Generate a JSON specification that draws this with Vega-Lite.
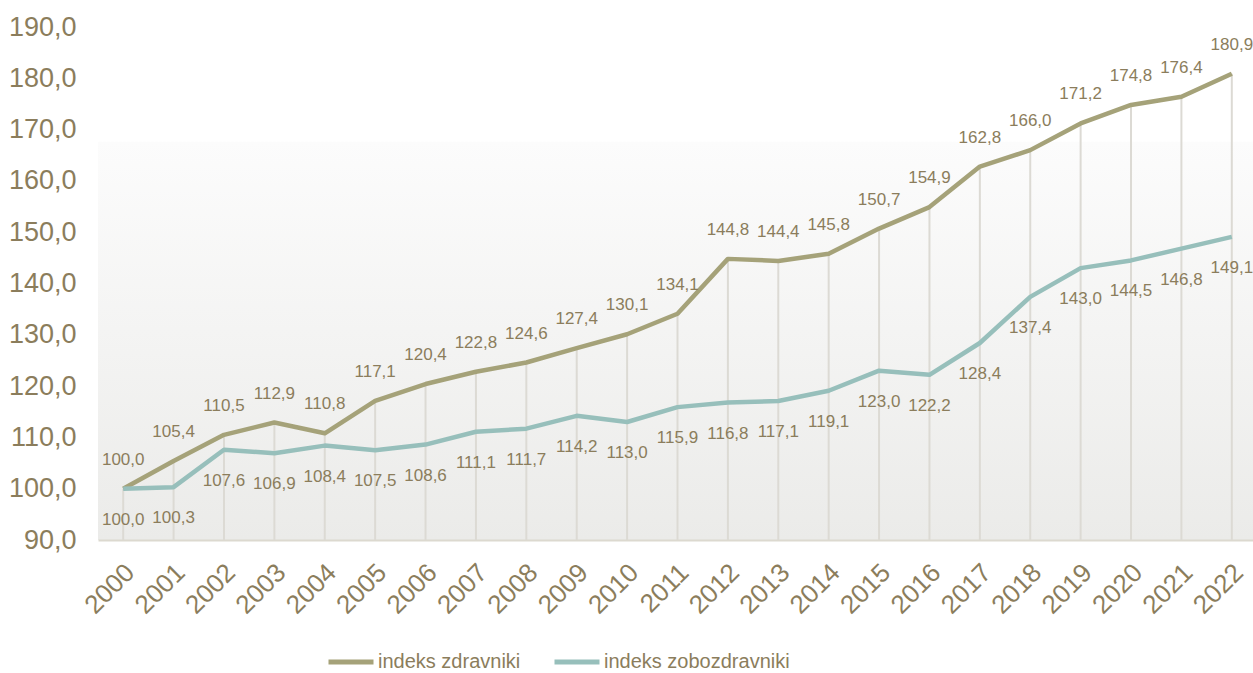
{
  "$schema": "https://vega.github.io/schema/vega-lite/v6.json",
  "width": 1159,
  "height": 513,
  "autosize": {"type": "none"},
  "padding": {"left": 98, "top": 27, "right": 0, "bottom": 133},
  "background": "white",
  "config": {
    "locale": {"number": {"decimal": ",", "thousands": ".", "grouping": [3], "currency": ["", " €"]}},
    "font": "Liberation Sans",
    "view": {
      "stroke": null,
      "fill": {
        "gradient": "linear", "x1": 0, "y1": 0, "x2": 0, "y2": 1,
        "stops": [
          {"offset": 0, "color": "#ffffff"},
          {"offset": 0.223, "color": "#ffffff"},
          {"offset": 0.224, "color": "#fcfcfc"},
          {"offset": 1, "color": "#ebebe9"}
        ]
      }
    }
  },
  "data": {
    "values": [
      {"leto": "2000", "indeks zdravniki": 100.0, "indeks zobozdravniki": 100.0},
      {"leto": "2001", "indeks zdravniki": 105.4, "indeks zobozdravniki": 100.3},
      {"leto": "2002", "indeks zdravniki": 110.5, "indeks zobozdravniki": 107.6},
      {"leto": "2003", "indeks zdravniki": 112.9, "indeks zobozdravniki": 106.9},
      {"leto": "2004", "indeks zdravniki": 110.8, "indeks zobozdravniki": 108.4},
      {"leto": "2005", "indeks zdravniki": 117.1, "indeks zobozdravniki": 107.5},
      {"leto": "2006", "indeks zdravniki": 120.4, "indeks zobozdravniki": 108.6},
      {"leto": "2007", "indeks zdravniki": 122.8, "indeks zobozdravniki": 111.1},
      {"leto": "2008", "indeks zdravniki": 124.6, "indeks zobozdravniki": 111.7},
      {"leto": "2009", "indeks zdravniki": 127.4, "indeks zobozdravniki": 114.2},
      {"leto": "2010", "indeks zdravniki": 130.1, "indeks zobozdravniki": 113.0},
      {"leto": "2011", "indeks zdravniki": 134.1, "indeks zobozdravniki": 115.9},
      {"leto": "2012", "indeks zdravniki": 144.8, "indeks zobozdravniki": 116.8},
      {"leto": "2013", "indeks zdravniki": 144.4, "indeks zobozdravniki": 117.1},
      {"leto": "2014", "indeks zdravniki": 145.8, "indeks zobozdravniki": 119.1},
      {"leto": "2015", "indeks zdravniki": 150.7, "indeks zobozdravniki": 123.0},
      {"leto": "2016", "indeks zdravniki": 154.9, "indeks zobozdravniki": 122.2},
      {"leto": "2017", "indeks zdravniki": 162.8, "indeks zobozdravniki": 128.4},
      {"leto": "2018", "indeks zdravniki": 166.0, "indeks zobozdravniki": 137.4},
      {"leto": "2019", "indeks zdravniki": 171.2, "indeks zobozdravniki": 143.0},
      {"leto": "2020", "indeks zdravniki": 174.8, "indeks zobozdravniki": 144.5},
      {"leto": "2021", "indeks zdravniki": 176.4, "indeks zobozdravniki": 146.8},
      {"leto": "2022", "indeks zdravniki": 180.9, "indeks zobozdravniki": 149.1}
    ]
  },
  "encoding": {
    "x": {
      "field": "leto", "type": "ordinal", "title": null,
      "axis": {
        "labelAngle": -45, "labelFontSize": 26, "labelColor": "#8b7d5c",
        "ticks": false, "domainColor": "#dcd9cf", "domainWidth": 2,
        "labelPadding": 19, "labelOffset": -2, "grid": false
      }
    }
  },
  "layer": [
    {
      "mark": {"type": "rule", "color": "#dcdad4", "strokeWidth": 2},
      "encoding": {
        "y": {"field": "indeks zdravniki", "type": "quantitative"},
        "y2": {"datum": 90}
      }
    },
    {
      "transform": [{"fold": ["indeks zdravniki", "indeks zobozdravniki"], "as": ["serija", "vrednost"]}],
      "mark": {"type": "line", "strokeWidth": 4.5, "strokeJoin": "round"},
      "encoding": {
        "y": {
          "field": "vrednost", "type": "quantitative", "title": null,
          "scale": {"domain": [90, 190], "nice": false, "zero": false},
          "axis": {
            "values": [90, 100, 110, 120, 130, 140, 150, 160, 170, 180, 190],
            "format": ".1f", "labelFontSize": 27, "labelColor": "#8b7d5c",
            "ticks": false, "domain": false, "grid": false, "labelPadding": 22
          }
        },
        "color": {
          "field": "serija", "type": "nominal", "title": null,
          "scale": {"domain": ["indeks zdravniki", "indeks zobozdravniki"], "range": ["#a5a279", "#97bfbb"]},
          "legend": {
            "orient": "none", "legendX": 228, "legendY": 610, "direction": "horizontal",
            "symbolType": "stroke", "symbolSize": 2025, "symbolStrokeWidth": 5,
            "labelFont": "Liberation Sans", "labelFontSize": 20, "labelColor": "#8b7d5c",
            "labelLimit": 400, "labelOffset": 2, "columnPadding": 23, "padding": 0
          }
        }
      }
    },
    {
      "mark": {"type": "text", "fontSize": 17, "color": "#8b7d5c", "dy": -29},
      "encoding": {
        "y": {"field": "indeks zdravniki", "type": "quantitative"},
        "text": {"field": "indeks zdravniki", "type": "quantitative", "format": ".1f"}
      }
    },
    {
      "mark": {"type": "text", "fontSize": 17, "color": "#8b7d5c", "dy": 31},
      "encoding": {
        "y": {"field": "indeks zobozdravniki", "type": "quantitative"},
        "text": {"field": "indeks zobozdravniki", "type": "quantitative", "format": ".1f"}
      }
    }
  ]
}
